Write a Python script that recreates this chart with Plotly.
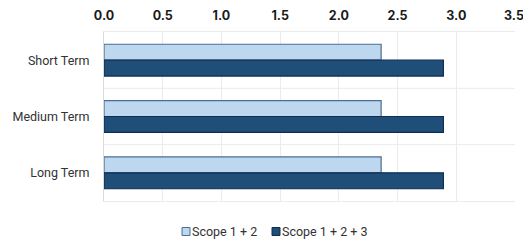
import plotly.graph_objects as go

categories = ["Short Term", "Medium Term", "Long Term"]
scope12 = [2.36, 2.36, 2.36]
scope123 = [2.89, 2.89, 2.89]
x_ticks = [0.0, 0.5, 1.0, 1.5, 2.0, 2.5, 3.0, 3.5]
x_tick_labels = ["0.0", "0.5", "1.0", "1.5", "2.0", "2.5", "3.0", "3.5"]
series_names = ["Scope 1 + 2", "Scope 1 + 2 + 3"]
fill_colors = ["#bdd7ee", "#1f4e79"]
edge_colors = ["#4a6e96", "#0e2d55"]

W, H = 523, 242
L, R, T, B = 104, 8, 32, 41
pw, ph = W - L - R, H - T - B

tick_font = dict(family="Inter", size=12.5, color="#1a1a1a", weight="bold")

fig = go.Figure()
for vals, name, fc, ec in zip([scope12, scope123], series_names, fill_colors, edge_colors):
    fig.add_trace(go.Bar(
        y=categories, x=vals, orientation="h", name=name,
        marker=dict(color=fc, line=dict(color=ec, width=1.2)),
    ))

for b in [0.5, 1.5]:
    fig.add_shape(type="line", xref="paper", x0=0, x1=1, yref="y", y0=b, y1=b,
                  line=dict(color="#ebebeb", width=1), layer="below")

def px(x):
    return (x - L) / pw
def py(y):
    return (H - B - y) / ph

# last tick label (at the right edge) drawn as an annotation so it is not clipped
fig.add_annotation(xref="x", yref="paper", x=x_ticks[-1], y=py(15.5),
                   text=x_tick_labels[-1], showarrow=False, xshift=-1,
                   xanchor="center", yanchor="middle", font=tick_font)

# compact legend like the reference
legend_items = [(182, 192), (272, 282)]
for (sx, tx), name, fc, ec in zip(legend_items, series_names, fill_colors, edge_colors):
    fig.add_shape(type="rect", xref="paper", yref="paper",
                  x0=px(sx), x1=px(sx + 8), y0=py(235.5), y1=py(227.5),
                  fillcolor=fc, line=dict(color=ec, width=1))
    fig.add_annotation(xref="paper", yref="paper", x=px(tx), y=py(231.5),
                       text=name, showarrow=False, xanchor="left", yanchor="middle",
                       xshift=-2, font=dict(family="Roboto", size=12.5, color="#333333"))

fig.update_layout(
    width=W, height=H,
    margin=dict(l=L, r=R, t=T, b=B),
    paper_bgcolor="white", plot_bgcolor="white",
    barmode="group", bargap=0.435, bargroupgap=0,
    showlegend=False,
    xaxis=dict(side="top", range=[0, 3.5], tickvals=x_ticks,
               ticktext=x_tick_labels[:-1] + [""],
               showgrid=True, gridcolor="#ebebeb", gridwidth=1,
               zeroline=False, showline=True, mirror=True, linecolor="#ebebeb",
               ticks="", ticklabelstandoff=6, automargin=False,
               ticklabeloverflow="allow", tickfont=tick_font),
    yaxis=dict(autorange="reversed", showgrid=False, zeroline=False,
               showline=True, linecolor="#d9d9d9", mirror=False, ticks="",
               ticklabelstandoff=11, automargin=False,
               tickfont=dict(family="Roboto", size=12.5, color="#333333")),
)

fig.write_html(
    "out.html",
    config={"displayModeBar": False},
    post_script=(
        "document.body.style.margin='0';"
        "document.documentElement.style.overflow='hidden';"
        "document.body.style.overflow='hidden';"
    ),
)
